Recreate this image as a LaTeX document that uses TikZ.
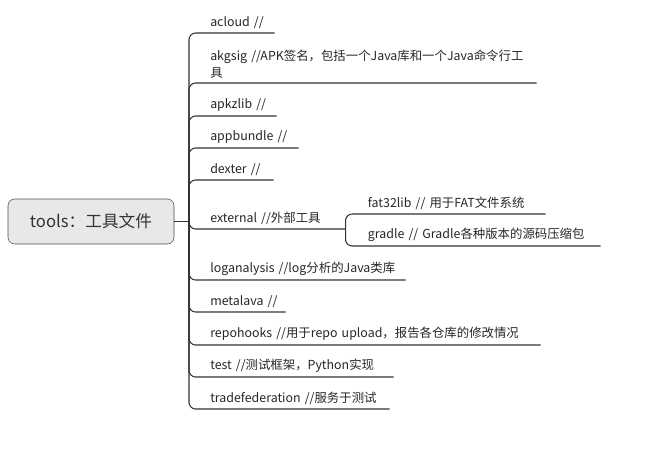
\documentclass[tikz,border=0pt]{standalone}
\usepackage{fontspec}
\setmainfont{Noto Sans CJK SC}
\begin{document}
\begin{tikzpicture}[x=0.75pt,y=-0.75pt,
  br/.style={draw=black!80,line width=0.8pt,rounded corners=5pt},
  leaf/.style={anchor=south west,inner xsep=0pt,inner ysep=3pt,align=left,font=\fontsize{9.3pt}{13pt}\selectfont,text=black!85}]
\useasboundingbox (0,0) rectangle (647,462);
\node[draw=black!70,fill=black!9,rounded corners=5pt,minimum width=166*0.75pt,minimum height=45*0.75pt,font=\fontsize{12.5pt}{14pt}\selectfont,text=black!80] (root) at (91,221.5) {tools：工具文件};
\coordinate (J) at (189,221.5);
\newcommand\leafnode[4]{\node[leaf,text width=#3*0.75pt] (#1) at (189,#2) {\hspace*{15.75pt}#4};}
\leafnode{acloud}{33}{85}{acloud //}
\leafnode{akgsig}{83}{347}{akgsig //APK签名，包括一个Java库和一个Java命令行工\\\hspace*{15.75pt}具}
\leafnode{apkzlib}{116}{87}{apkzlib //}
\leafnode{appbundle}{148}{109}{appbundle //}
\leafnode{dexter}{180}{84}{dexter //}
\leafnode{external}{229}{156}{external //外部工具}
\leafnode{loganalysis}{280}{216}{loganalysis //log分析的Java类库}
\leafnode{metalava}{312}{96}{metalava //}
\leafnode{repohooks}{345}{351}{repohooks //用于repo upload，报告各仓库的修改情况}
\leafnode{test}{377}{204}{test //测试框架，Python实现}
\leafnode{trade}{409}{200}{tradefederation //服务于测试}
\node[leaf,text width=200*0.75pt] (fat) at (345,214) {\hspace*{17pt}fat32lib // 用于FAT文件系统};
\node[leaf,text width=255*0.75pt] (gradle) at (345,246) {\hspace*{17pt}gradle // Gradle各种版本的源码压缩包};
\draw[br] (root.east) -- (J);
\foreach \n in {acloud,akgsig,apkzlib,appbundle,dexter,external,loganalysis,metalava,repohooks,test,trade}
  \draw[br] (J) |- (\n.south east);
\draw[br] (external.south east) |- (fat.south east);
\draw[br] (external.south east) |- (gradle.south east);
\end{tikzpicture}
\end{document}
